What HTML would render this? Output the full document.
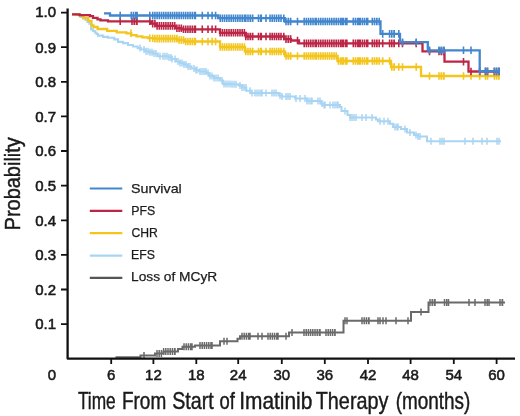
<!DOCTYPE html>
<html><head><meta charset="utf-8"><style>
html,body{margin:0;padding:0;background:#fff;}
body{width:520px;height:416px;overflow:hidden;}
svg{display:block;filter:blur(0.3px);}
text{font-family:"Liberation Sans",sans-serif;fill:#1a1a1a;}
.tl{font-size:15px;stroke:#1a1a1a;stroke-width:0.55px;}
.ti{font-size:24px;stroke:#1a1a1a;stroke-width:0.45px;}
.lg{font-size:13.4px;stroke:#222;stroke-width:0.25px;}
</style></head><body>
<svg width="520" height="416" viewBox="0 0 520 416">
<rect width="520" height="416" fill="#fff"/>
<path d="M72.0 14.3 L76.0 14.3 L76.0 15.0 L80.5 15.0 L80.5 16.9 L83.0 16.9 L83.0 18.5 L85.5 18.5 L85.5 20.0 L87.5 20.0 L87.5 22.0 L89.3 22.0 L89.3 23.8 L91.1 23.8 L91.1 29.4 L93.0 29.4 L93.0 31.0 L94.9 31.0 L94.9 32.5 L96.5 32.5 L96.5 34.0 L98.0 34.0 L98.0 35.6 L103.0 35.6 L103.0 36.9 L108.0 36.9 L108.0 37.8 L114.3 37.8 L114.3 39.4 L118.0 39.4 L118.0 41.9 L123.0 41.9 L123.0 43.1 L128.0 43.1 L128.0 45.0 L133.0 45.0 L133.0 46.5 L137.7 46.5 L137.7 48.1 L141.0 48.1 L141.0 49.5 L145.4 49.5 L145.4 51.2 L149.0 51.2 L149.0 52.3 L153.0 52.3 L153.0 53.5 L157.7 53.5 L157.7 56.2 L168.5 56.2 L168.5 57.5 L172.0 57.5 L172.0 59.0 L176.0 59.0 L176.0 61.5 L180.0 61.5 L180.0 63.0 L183.8 63.0 L183.8 64.5 L187.5 64.5 L187.5 66.5 L191.5 66.5 L191.5 68.5 L195.5 68.5 L195.5 70.0 L199.2 70.0 L199.2 71.5 L206.2 71.5 L206.2 73.0 L209.2 73.0 L209.2 76.0 L214.0 76.0 L214.0 78.0 L220.0 78.0 L220.0 80.5 L223.0 80.5 L223.0 84.0 L231.0 84.0 L231.0 84.2 L238.5 84.2 L238.5 85.4 L242.0 85.4 L242.0 87.5 L246.2 87.5 L246.2 90.8 L250.8 90.8 L250.8 93.0 L278.5 93.0 L278.5 95.5 L282.0 95.5 L282.0 96.5 L295.0 96.5 L295.0 98.5 L307.0 98.5 L307.0 101.0 L321.0 101.0 L321.0 103.5 L322.5 103.5 L322.5 105.0 L340.0 105.0 L340.0 107.0 L341.5 107.0 L341.5 111.0 L347.5 111.0 L347.5 115.0 L350.0 115.0 L350.0 117.5 L376.0 117.5 L376.0 119.5 L378.0 119.5 L378.0 121.2 L390.0 121.2 L390.0 123.8 L393.0 123.8 L393.0 127.0 L401.0 127.0 L401.0 129.0 L407.0 129.0 L407.0 132.5 L414.0 132.5 L414.0 135.0 L418.0 135.0 L418.0 136.5 L427.0 136.5 L427.0 141.2 L501.0 141.2" fill="none" stroke="#a9d5f3" stroke-width="2.1"/>
<path d="M140.0 44.6V51.6M144.0 46.0V53.0M146.0 47.7V54.7M148.0 47.7V54.7M150.0 48.8V55.8M152.0 48.8V55.8M154.0 50.0V57.0M156.0 50.0V57.0M160.0 52.7V59.7M163.0 52.7V59.7M165.0 52.7V59.7M167.0 52.7V59.7M169.0 54.0V61.0M171.0 54.0V61.0M172.0 55.5V62.5M175.0 55.5V62.5M178.0 58.0V65.0M180.0 59.5V66.5M182.0 59.5V66.5M184.0 61.0V68.0M186.0 61.0V68.0M188.0 63.0V70.0M190.0 63.0V70.0M194.0 65.0V72.0M196.0 66.5V73.5M197.0 66.5V73.5M200.0 68.0V75.0M202.0 68.0V75.0M204.0 68.0V75.0M206.0 68.0V75.0M208.0 69.5V76.5M210.0 72.5V79.5M212.0 72.5V79.5M214.0 74.5V81.5M216.0 74.5V81.5M218.0 74.5V81.5M222.0 77.0V84.0M224.0 80.5V87.5M226.0 80.5V87.5M228.0 80.5V87.5M230.0 80.5V87.5M232.0 80.7V87.7M234.0 80.7V87.7M236.0 80.7V87.7M240.0 81.9V88.9M242.0 84.0V91.0M244.0 84.0V91.0M246.0 84.0V91.0M250.0 87.3V94.3M252.0 89.5V96.5M255.0 89.5V96.5M257.0 89.5V96.5M259.0 89.5V96.5M261.0 89.5V96.5M262.0 89.5V96.5M266.0 89.5V96.5M272.0 89.5V96.5M274.0 89.5V96.5M276.0 89.5V96.5M280.0 92.0V99.0M282.0 93.0V100.0M286.0 93.0V100.0M288.0 93.0V100.0M290.0 93.0V100.0M296.0 95.0V102.0M300.0 95.0V102.0M305.0 95.0V102.0M307.0 97.5V104.5M309.0 97.5V104.5M311.0 97.5V104.5M312.0 97.5V104.5M318.0 97.5V104.5M320.0 97.5V104.5M322.0 100.0V107.0M324.0 101.5V108.5M325.0 101.5V108.5M330.0 101.5V108.5M333.0 101.5V108.5M335.0 101.5V108.5M337.0 101.5V108.5M338.0 101.5V108.5M345.0 107.5V114.5M350.0 114.0V121.0M352.0 114.0V121.0M354.0 114.0V121.0M356.0 114.0V121.0M362.0 114.0V121.0M366.0 114.0V121.0M372.0 114.0V121.0M380.0 117.8V124.8M384.0 117.8V124.8M388.0 117.8V124.8M395.0 123.5V130.5M397.0 123.5V130.5M398.0 123.5V130.5M405.0 125.5V132.5M410.0 129.0V136.0M416.0 131.5V138.5M418.0 133.0V140.0M420.0 133.0V140.0M431.0 137.8V144.8M440.0 137.8V144.8M442.0 137.8V144.8M444.0 137.8V144.8M465.0 137.8V144.8M473.0 137.8V144.8M482.0 137.8V144.8M487.0 137.8V144.8M497.0 137.8V144.8M499.0 137.8V144.8" fill="none" stroke="#a9d5f3" stroke-width="1.5"/>
<path d="M72.0 14.3 L80.0 14.3 L80.0 15.8 L83.5 15.8 L83.5 18.0 L88.3 18.0 L88.3 21.0 L91.5 21.0 L91.5 25.3 L93.5 25.3 L93.5 27.0 L97.6 27.0 L97.6 29.0 L107.2 29.0 L107.2 30.9 L116.8 30.9 L116.8 32.3 L126.5 32.3 L126.5 33.3 L131.3 33.3 L131.3 35.2 L136.5 35.2 L136.5 36.3 L142.3 36.3 L142.3 37.4 L148.0 37.4 L148.0 38.2 L153.8 38.2 L153.8 38.6 L177.0 38.6 L177.0 40.0 L184.0 40.0 L184.0 41.5 L220.0 41.5 L220.0 47.0 L245.0 47.0 L245.0 51.5 L285.0 51.5 L285.0 56.0 L337.5 56.0 L337.5 61.0 L391.0 61.0 L391.0 67.0 L421.0 67.0 L421.0 76.0 L499.5 76.0" fill="none" stroke="#f3c51d" stroke-width="2.3"/>
<path d="M131.0 29.5V37.1M149.8 34.4V42.0M152.7 34.4V42.0M154.9 34.8V42.4M157.1 34.8V42.4M159.3 34.8V42.4M161.5 34.8V42.4M163.7 34.8V42.4M165.9 34.8V42.4M168.1 34.8V42.4M170.3 34.8V42.4M172.5 34.8V42.4M174.7 34.8V42.4M176.9 34.8V42.4M179.1 36.2V43.8M181.3 36.2V43.8M183.5 36.2V43.8M185.7 37.7V45.3M187.9 37.7V45.3M190.1 37.7V45.3M192.3 37.7V45.3M194.5 37.7V45.3M195.4 37.7V45.3M202.3 37.7V45.3M208.0 37.7V45.3M212.1 37.7V45.3M215.6 37.7V45.3M220.2 43.2V50.8M222.4 43.2V50.8M224.6 43.2V50.8M226.8 43.2V50.8M229.0 43.2V50.8M231.2 43.2V50.8M233.4 43.2V50.8M235.6 43.2V50.8M237.8 43.2V50.8M240.0 43.2V50.8M242.2 43.2V50.8M244.4 43.2V50.8M245.8 47.7V55.3M248.0 47.7V55.3M250.2 47.7V55.3M252.4 47.7V55.3M252.7 47.7V55.3M258.5 47.7V55.3M260.7 47.7V55.3M261.3 47.7V55.3M266.0 47.7V55.3M270.0 47.7V55.3M272.2 47.7V55.3M274.4 47.7V55.3M276.6 47.7V55.3M278.8 47.7V55.3M281.0 47.7V55.3M283.8 47.7V55.3M286.0 52.2V59.8M288.2 52.2V59.8M290.4 52.2V59.8M290.7 52.2V59.8M297.5 52.2V59.8M304.2 52.2V59.8M306.4 52.2V59.8M308.6 52.2V59.8M310.8 52.2V59.8M313.0 52.2V59.8M315.2 52.2V59.8M316.3 52.2V59.8M318.6 52.2V59.8M320.8 52.2V59.8M323.0 52.2V59.8M325.2 52.2V59.8M327.4 52.2V59.8M329.6 52.2V59.8M331.8 52.2V59.8M334.0 52.2V59.8M336.2 52.2V59.8M338.4 57.2V64.8M340.6 57.2V64.8M342.3 57.2V64.8M343.4 57.2V64.8M345.6 57.2V64.8M346.9 57.2V64.8M353.3 57.2V64.8M355.5 57.2V64.8M357.7 57.2V64.8M359.0 57.2V64.8M360.2 57.2V64.8M362.4 57.2V64.8M364.6 57.2V64.8M366.8 57.2V64.8M367.7 57.2V64.8M372.3 57.2V64.8M374.5 57.2V64.8M376.7 57.2V64.8M376.9 57.2V64.8M379.2 57.2V64.8M382.7 57.2V64.8M389.6 57.2V64.8M391.8 63.2V70.8M394.0 63.2V70.8M394.2 63.2V70.8M398.8 63.2V70.8M402.5 63.2V70.8M416.2 63.2V70.8M429.5 72.2V79.8M439.0 72.2V79.8M441.2 72.2V79.8M443.4 72.2V79.8M444.0 72.2V79.8M463.5 72.2V79.8M471.0 72.2V79.8M479.7 72.2V79.8M485.5 72.2V79.8M487.5 72.2V79.8M494.4 72.2V79.8M496.6 72.2V79.8M498.8 72.2V79.8M499.0 72.2V79.8" fill="none" stroke="#f3c51d" stroke-width="1.6"/>
<path d="M72.0 14.3 L79.5 14.3 L79.5 15.2 L90.0 15.2 L90.0 16.2 L93.0 16.2 L93.0 17.8 L97.5 17.8 L97.5 19.4 L100.5 19.4 L100.5 20.3 L108.0 20.3 L108.0 21.3 L151.0 21.3 L151.0 23.6 L156.0 23.6 L156.0 25.9 L175.7 25.9 L175.7 28.2 L181.5 28.2 L181.5 29.3 L220.0 29.3 L220.0 32.8 L245.8 32.8 L245.8 36.5 L284.4 36.5 L284.4 39.1 L291.0 39.1 L291.0 40.5 L299.0 40.5 L299.0 43.4 L422.5 43.4 L422.5 51.4 L444.5 51.4 L444.5 61.7 L468.5 61.7 L468.5 71.5 L499.0 71.5" fill="none" stroke="#bc2545" stroke-width="2.3"/>
<path d="M120.2 17.5V25.1M132.0 17.5V25.1M134.2 17.5V25.1M136.4 17.5V25.1M137.0 17.5V25.1M149.8 17.5V25.1M152.7 19.8V27.4M154.9 19.8V27.4M157.1 22.1V29.7M159.3 22.1V29.7M161.5 22.1V29.7M163.7 22.1V29.7M165.9 22.1V29.7M168.1 22.1V29.7M170.3 22.1V29.7M172.5 22.1V29.7M174.7 22.1V29.7M176.9 24.4V32.0M179.1 24.4V32.0M181.3 24.4V32.0M183.5 25.5V33.1M185.7 25.5V33.1M187.9 25.5V33.1M190.1 25.5V33.1M192.3 25.5V33.1M194.5 25.5V33.1M195.4 25.5V33.1M202.3 25.5V33.1M208.0 25.5V33.1M212.1 25.5V33.1M215.6 25.5V33.1M220.2 29.0V36.6M222.4 29.0V36.6M224.6 29.0V36.6M226.8 29.0V36.6M229.0 29.0V36.6M231.2 29.0V36.6M233.4 29.0V36.6M235.6 29.0V36.6M237.8 29.0V36.6M240.0 29.0V36.6M242.2 29.0V36.6M244.4 29.0V36.6M245.8 32.7V40.3M248.0 32.7V40.3M250.2 32.7V40.3M252.4 32.7V40.3M252.7 32.7V40.3M258.5 32.7V40.3M260.7 32.7V40.3M261.3 32.7V40.3M266.0 32.7V40.3M270.0 32.7V40.3M272.2 32.7V40.3M274.4 32.7V40.3M276.6 32.7V40.3M278.8 32.7V40.3M281.0 32.7V40.3M283.8 32.7V40.3M286.0 35.3V42.9M288.2 35.3V42.9M290.4 35.3V42.9M290.7 35.3V42.9M297.5 36.7V44.3M304.2 39.6V47.2M306.4 39.6V47.2M308.6 39.6V47.2M310.8 39.6V47.2M313.0 39.6V47.2M315.2 39.6V47.2M316.3 39.6V47.2M318.6 39.6V47.2M320.8 39.6V47.2M323.0 39.6V47.2M325.2 39.6V47.2M327.4 39.6V47.2M329.6 39.6V47.2M331.8 39.6V47.2M334.0 39.6V47.2M336.2 39.6V47.2M338.4 39.6V47.2M340.6 39.6V47.2M342.3 39.6V47.2M343.4 39.6V47.2M345.6 39.6V47.2M346.9 39.6V47.2M353.3 39.6V47.2M355.5 39.6V47.2M357.7 39.6V47.2M359.0 39.6V47.2M360.2 39.6V47.2M362.4 39.6V47.2M364.6 39.6V47.2M366.8 39.6V47.2M367.7 39.6V47.2M372.3 39.6V47.2M374.5 39.6V47.2M376.7 39.6V47.2M376.9 39.6V47.2M379.2 39.6V47.2M382.7 39.6V47.2M389.6 39.6V47.2M391.8 39.6V47.2M394.0 39.6V47.2M394.2 39.6V47.2M398.8 39.6V47.2M402.5 39.6V47.2M416.2 39.6V47.2M429.5 47.6V55.2M439.0 47.6V55.2M441.2 47.6V55.2M443.4 47.6V55.2M444.0 47.6V55.2M463.5 57.9V65.5M471.0 67.7V75.3M479.7 67.7V75.3M485.5 67.7V75.3M487.5 67.7V75.3M494.4 67.7V75.3M496.6 67.7V75.3M498.8 67.7V75.3M499.0 67.7V75.3" fill="none" stroke="#bc2545" stroke-width="1.6"/>
<path d="M104.0 13.3 L110.0 13.3 L110.0 15.5 L218.2 15.5 L218.2 18.2 L284.8 18.2 L284.8 21.5 L380.5 21.5 L380.5 33.9 L400.0 33.9 L400.0 42.2 L427.8 42.2 L427.8 50.3 L479.7 50.3 L479.7 71.2 L499.5 71.2" fill="none" stroke="#4287cd" stroke-width="2.3"/>
<path d="M120.2 11.7V19.3M131.3 11.7V19.3M133.5 11.7V19.3M135.7 11.7V19.3M137.1 11.7V19.3M149.8 11.7V19.3M152.7 11.7V19.3M154.9 11.7V19.3M157.1 11.7V19.3M159.3 11.7V19.3M161.5 11.7V19.3M163.7 11.7V19.3M165.9 11.7V19.3M168.1 11.7V19.3M170.3 11.7V19.3M172.5 11.7V19.3M174.7 11.7V19.3M176.9 11.7V19.3M179.1 11.7V19.3M181.3 11.7V19.3M183.5 11.7V19.3M185.7 11.7V19.3M187.9 11.7V19.3M190.1 11.7V19.3M192.3 11.7V19.3M194.5 11.7V19.3M195.4 11.7V19.3M202.3 11.7V19.3M208.0 11.7V19.3M212.1 11.7V19.3M215.6 11.7V19.3M220.2 14.4V22.0M222.4 14.4V22.0M224.6 14.4V22.0M226.8 14.4V22.0M229.0 14.4V22.0M231.2 14.4V22.0M233.4 14.4V22.0M235.6 14.4V22.0M237.8 14.4V22.0M240.0 14.4V22.0M242.2 14.4V22.0M244.4 14.4V22.0M245.8 14.4V22.0M248.0 14.4V22.0M250.2 14.4V22.0M252.4 14.4V22.0M252.7 14.4V22.0M258.5 14.4V22.0M260.7 14.4V22.0M261.3 14.4V22.0M266.0 14.4V22.0M270.0 14.4V22.0M272.2 14.4V22.0M274.4 14.4V22.0M276.6 14.4V22.0M278.8 14.4V22.0M281.0 14.4V22.0M283.8 14.4V22.0M286.0 17.7V25.3M288.2 17.7V25.3M290.4 17.7V25.3M290.7 17.7V25.3M297.5 17.7V25.3M304.2 17.7V25.3M306.4 17.7V25.3M308.6 17.7V25.3M310.8 17.7V25.3M313.0 17.7V25.3M315.2 17.7V25.3M316.3 17.7V25.3M318.6 17.7V25.3M320.8 17.7V25.3M323.0 17.7V25.3M325.2 17.7V25.3M327.4 17.7V25.3M329.6 17.7V25.3M331.8 17.7V25.3M334.0 17.7V25.3M336.2 17.7V25.3M338.4 17.7V25.3M340.6 17.7V25.3M342.3 17.7V25.3M343.4 17.7V25.3M345.6 17.7V25.3M346.9 17.7V25.3M353.3 17.7V25.3M355.5 17.7V25.3M357.7 17.7V25.3M359.0 17.7V25.3M360.2 17.7V25.3M362.4 17.7V25.3M364.6 17.7V25.3M366.8 17.7V25.3M367.7 17.7V25.3M372.3 17.7V25.3M374.5 17.7V25.3M376.7 17.7V25.3M376.9 17.7V25.3M379.2 17.7V25.3M382.7 30.1V37.7M389.6 30.1V37.7M391.8 30.1V37.7M394.0 30.1V37.7M394.2 30.1V37.7M398.8 30.1V37.7M402.5 38.4V46.0M416.2 38.4V46.0M429.5 46.5V54.1M439.0 46.5V54.1M441.2 46.5V54.1M443.4 46.5V54.1M444.0 46.5V54.1M463.5 46.5V54.1M471.0 46.5V54.1M479.7 67.4V75.0M485.5 67.4V75.0M487.5 67.4V75.0M494.4 67.4V75.0M496.6 67.4V75.0M498.8 67.4V75.0M499.0 67.4V75.0" fill="none" stroke="#4287cd" stroke-width="1.6"/>
<path d="M115.5 357.3 L140.5 357.3 L140.5 355.5 L155.0 355.5 L155.0 353.5 L163.5 353.5 L163.5 351.5 L178.0 351.5 L178.0 349.0 L182.5 349.0 L182.5 346.8 L195.0 346.8 L195.0 345.5 L220.0 345.5 L220.0 341.2 L237.5 341.2 L237.5 338.8 L240.0 338.8 L240.0 336.2 L289.0 336.2 L289.0 332.5 L343.5 332.5 L343.5 320.8 L411.0 320.8 L411.0 312.0 L428.5 312.0 L428.5 302.5 L505.0 302.5" fill="none" stroke="#6a6a6a" stroke-width="2"/>
<path d="M144.0 352.0V359.0M157.0 350.0V357.0M159.2 350.0V357.0M161.4 350.0V357.0M163.6 348.0V355.0M165.8 348.0V355.0M168.0 348.0V355.0M170.2 348.0V355.0M172.4 348.0V355.0M174.6 348.0V355.0M175.0 348.0V355.0M184.0 343.3V350.3M186.2 343.3V350.3M188.4 343.3V350.3M190.6 343.3V350.3M192.0 343.3V350.3M200.0 342.0V349.0M202.2 342.0V349.0M204.4 342.0V349.0M206.6 342.0V349.0M208.8 342.0V349.0M211.0 342.0V349.0M212.0 342.0V349.0M224.0 337.8V344.8M227.0 337.8V344.8M242.0 332.8V339.8M244.2 332.8V339.8M246.4 332.8V339.8M248.6 332.8V339.8M250.0 332.8V339.8M258.0 332.8V339.8M262.0 332.8V339.8M268.0 332.8V339.8M270.2 332.8V339.8M272.4 332.8V339.8M274.6 332.8V339.8M276.8 332.8V339.8M278.0 332.8V339.8M286.0 332.8V339.8M292.0 329.0V336.0M304.0 329.0V336.0M306.2 329.0V336.0M308.4 329.0V336.0M310.6 329.0V336.0M312.8 329.0V336.0M315.0 329.0V336.0M317.2 329.0V336.0M319.4 329.0V336.0M320.0 329.0V336.0M326.0 329.0V336.0M328.2 329.0V336.0M330.4 329.0V336.0M332.6 329.0V336.0M334.8 329.0V336.0M335.0 329.0V336.0M345.0 317.3V324.3M347.0 317.3V324.3M362.0 317.3V324.3M364.2 317.3V324.3M366.4 317.3V324.3M368.6 317.3V324.3M369.0 317.3V324.3M378.0 317.3V324.3M380.0 317.3V324.3M383.0 317.3V324.3M386.0 317.3V324.3M396.0 317.3V324.3M408.0 317.3V324.3M421.0 308.5V315.5M430.0 299.0V306.0M432.2 299.0V306.0M434.4 299.0V306.0M435.0 299.0V306.0M444.5 299.0V306.0M446.7 299.0V306.0M448.5 299.0V306.0M469.0 299.0V306.0M475.0 299.0V306.0M485.0 299.0V306.0M487.2 299.0V306.0M489.0 299.0V306.0M500.0 299.0V306.0M502.2 299.0V306.0M502.5 299.0V306.0" fill="none" stroke="#6a6a6a" stroke-width="1.5"/>
<path d="M67.6 8.6V358.6H515" fill="none" stroke="#111" stroke-width="2.3" stroke-linejoin="round"/>
<path d="M61 324.1H67.6M61 289.5H67.6M61 254.9H67.6M61 220.3H67.6M61 185.6H67.6M61 151.0H67.6M61 116.4H67.6M61 81.8H67.6M61 47.2H67.6M61 12.6H67.6M111.2 358.6V364M153.4 358.6V364M196.3 358.6V364M238.2 358.6V364M281.8 358.6V364M324.8 358.6V364M368.0 358.6V364M410.6 358.6V364M453.8 358.6V364M496.6 358.6V364" fill="none" stroke="#111" stroke-width="1.8"/>
<text x="56.0" y="329.4" text-anchor="end" class="tl">0.1</text>
<text x="56.0" y="294.8" text-anchor="end" class="tl">0.2</text>
<text x="56.0" y="260.2" text-anchor="end" class="tl">0.3</text>
<text x="56.0" y="225.6" text-anchor="end" class="tl">0.4</text>
<text x="56.0" y="190.9" text-anchor="end" class="tl">0.5</text>
<text x="56.0" y="156.3" text-anchor="end" class="tl">0.6</text>
<text x="56.0" y="121.7" text-anchor="end" class="tl">0.7</text>
<text x="56.0" y="87.1" text-anchor="end" class="tl">0.8</text>
<text x="56.0" y="52.5" text-anchor="end" class="tl">0.9</text>
<text x="56.0" y="17.1" text-anchor="end" class="tl">1.0</text>
<text x="52.0" y="380" text-anchor="middle" class="tl">0</text>
<text x="111.2" y="380" text-anchor="middle" class="tl">6</text>
<text x="153.4" y="380" text-anchor="middle" class="tl">12</text>
<text x="196.3" y="380" text-anchor="middle" class="tl">18</text>
<text x="238.2" y="380" text-anchor="middle" class="tl">24</text>
<text x="281.8" y="380" text-anchor="middle" class="tl">30</text>
<text x="324.8" y="380" text-anchor="middle" class="tl">36</text>
<text x="368.0" y="380" text-anchor="middle" class="tl">42</text>
<text x="410.6" y="380" text-anchor="middle" class="tl">48</text>
<text x="453.8" y="380" text-anchor="middle" class="tl">54</text>
<text x="496.6" y="380" text-anchor="middle" class="tl">60</text>
<text x="77.92" y="408.6" class="ti" textLength="37.84" lengthAdjust="spacingAndGlyphs">Time</text>
<text x="121.94" y="408.6" class="ti" textLength="44.31" lengthAdjust="spacingAndGlyphs">From</text>
<text x="172.21" y="408.6" class="ti" textLength="41.54" lengthAdjust="spacingAndGlyphs">Start</text>
<text x="219.43" y="408.6" class="ti" textLength="15.35" lengthAdjust="spacingAndGlyphs">of</text>
<text x="239.27" y="408.6" class="ti" textLength="73.10" lengthAdjust="spacingAndGlyphs">Imatinib</text>
<text x="315.75" y="408.6" class="ti" textLength="72.68" lengthAdjust="spacingAndGlyphs">Therapy</text>
<text x="395.73" y="408.6" class="ti" textLength="74.65" lengthAdjust="spacingAndGlyphs">(months)</text>
<text transform="translate(20.2 230.4) rotate(-90)" x="0" y="0" class="ti" style="font-size:22.3px" textLength="93.2" lengthAdjust="spacingAndGlyphs">Probability</text>
<path d="M89.8 188.5H122.3" stroke="#4287cd" stroke-width="2.2"/>
<text x="131.0" y="192.8" class="lg" textLength="50.8" lengthAdjust="spacingAndGlyphs">Survival</text>
<path d="M89.8 210.8H122.3" stroke="#bc2545" stroke-width="2.2"/>
<text x="131.2" y="214.8" class="lg" textLength="24.0" lengthAdjust="spacingAndGlyphs">PFS</text>
<path d="M89.8 233.2H122.3" stroke="#f3c51d" stroke-width="2.2"/>
<text x="131.5" y="237.1" class="lg" textLength="26.4" lengthAdjust="spacingAndGlyphs">CHR</text>
<path d="M89.8 255.6H122.3" stroke="#a9d5f3" stroke-width="2.2"/>
<text x="131.1" y="259.2" class="lg" textLength="23.9" lengthAdjust="spacingAndGlyphs">EFS</text>
<path d="M89.8 277.9H122.3" stroke="#555555" stroke-width="2.2"/>
<text x="131.0" y="281.0" class="lg" textLength="86.2" lengthAdjust="spacingAndGlyphs">Loss of MCyR</text>
</svg>
</body></html>
